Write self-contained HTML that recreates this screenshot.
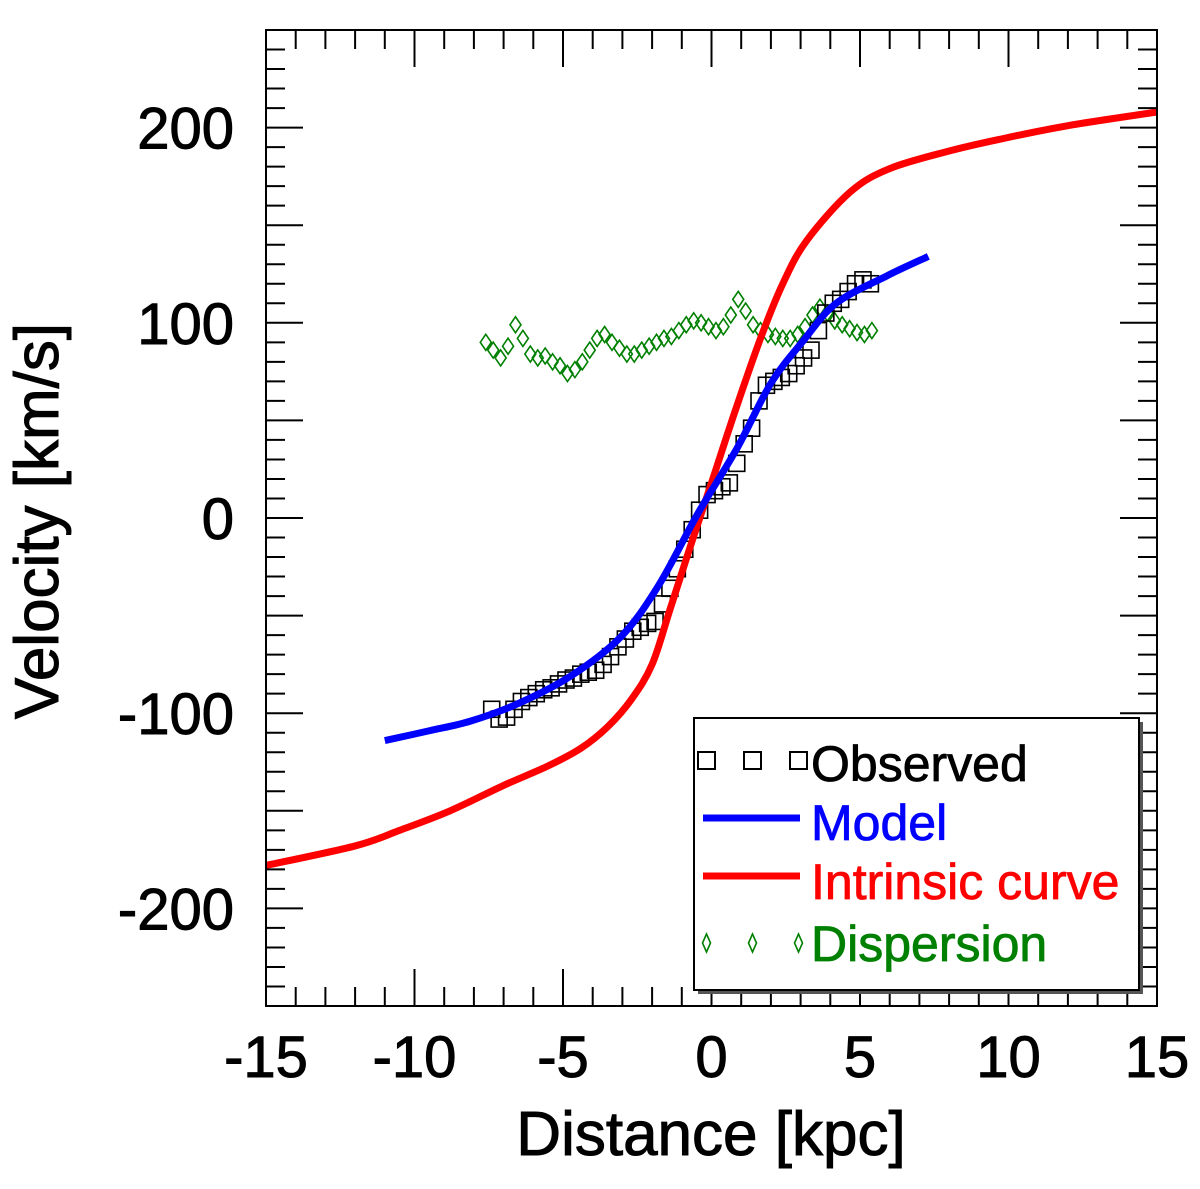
<!DOCTYPE html>
<html><head><meta charset="utf-8"><style>
body{margin:0;background:#fff}
svg text{font-family:"Liberation Sans",sans-serif}
</style></head><body>
<svg id="chart" width="1200" height="1184" viewBox="0 0 1200 1184" xmlns="http://www.w3.org/2000/svg">
<rect width="1200" height="1184" fill="#fff"/>
<g id="marks"></g>
<g id="axes"></g>
</svg>
<script>
const xTicks=[-15,-10,-5,0,5,10,15];
const yTicks=[-200,-100,0,100,200];
const intrX=[-15,-12,-10.5,-8.8,-7,-5.5,-4.4,-3.5,-2.7,-2,-1.4,-0.7,0,0.8,1.65,2.4,3.2,4.67,6,8,9.7,12,15];
const intrY=[-178,-168,-160,-150,-137,-127,-118,-107,-93,-75,-47,-14,18,55,92,120,142,167,179,188,194,201,208];
const modelX=[-11,-9.5,-8.1,-6.5,-4.74,-3.06,-1.8,-0.47,0.87,2,3.1,4.2,5.9,7.3];
const modelY=[-114,-109,-104,-95,-81,-61,-35,2,36,69,91,110,124,134];
const obsX=[-7.4,-7.15,-6.9,-6.65,-6.4,-6.15,-5.9,-5.65,-5.4,-5.15,-4.9,-4.65,-4.4,-4.15,-3.9,-3.65,-3.4,-3.15,-2.9,-2.65,-2.4,-2.15,-1.9,-1.65,-1.4,-1.15,-0.9,-0.65,-0.4,-0.15,0.1,0.35,0.6,0.85,1.1,1.35,1.6,1.85,2.1,2.35,2.6,2.85,3.1,3.35,3.6,3.85,4.1,4.35,4.6,4.85,5.1,5.35];
const obsY=[-98,-103,-102,-98,-94,-92,-90,-88,-87,-85,-83,-82,-80,-79,-78,-75,-71,-66,-62,-58,-56,-54,-53,-44,-36,-26,-16,-6,4,12,14,16,18,28,38,46,60,68,70,72,74,78,82,86,96,105,110,112,116,120,122,120];
const dispX=[-7.6,-7.35,-7.1,-6.85,-6.6,-6.35,-6.1,-5.85,-5.6,-5.35,-5.1,-4.85,-4.6,-4.35,-4.1,-3.85,-3.6,-3.35,-3.1,-2.85,-2.6,-2.35,-2.1,-1.85,-1.6,-1.35,-1.1,-0.85,-0.6,-0.35,-0.1,0.15,0.4,0.65,0.9,1.15,1.4,1.65,1.9,2.15,2.4,2.65,2.9,3.15,3.4,3.65,3.9,4.15,4.4,4.65,4.9,5.15,5.4];
const dispY=[90,86,82,88,99,92,84,82,83,80,78,74,76,80,86,92,94,90,87,84,84,86,88,90,92,93,96,99,101,100,98,96,98,104,112,106,99,96,94,93,92,92,94,98,104,108,105,101,99,97,95,94,96];

const L=266,R=1157,T=30,B=1006;
const X=v=>L+(v+15)/30*(R-L);
const Y=v=>B-(v+250)/500*(B-T);
const NS='http://www.w3.org/2000/svg';
const marks=document.getElementById('marks'),axes=document.getElementById('axes');
function mk(tag,attrs,parent){const e=document.createElementNS(NS,tag);for(const k in attrs)e.setAttribute(k,attrs[k]);parent.appendChild(e);return e;}

dispX.forEach((x,i)=>{const cx=X(x),cy=Y(dispY[i]);
 const d=mk('path',{d:`M${cx} ${cy-8}L${cx+5.5} ${cy}L${cx} ${cy+8}L${cx-5.5} ${cy}Z`,fill:'none',stroke:'#008000','stroke-width':1.6},marks);
 
 
});
obsX.forEach((x,i)=>{const cx=X(x),cy=Y(obsY[i]);
 const s=mk('rect',{x:cx-8,y:cy-8,width:16,height:16,fill:'none',stroke:'#000','stroke-width':1.6},marks);
 
 
});
function smooth(xs,ys){
 const p=xs.map((x,i)=>[X(x),Y(ys[i])]);
 let d=`M${p[0][0]} ${p[0][1]}`;
 for(let i=0;i<p.length-1;i++){
  const p0=p[Math.max(0,i-1)],p1=p[i],p2=p[i+1],p3=p[Math.min(p.length-1,i+2)];
  const c1=[p1[0]+(p2[0]-p0[0])/6,p1[1]+(p2[1]-p0[1])/6];
  const c2=[p2[0]-(p3[0]-p1[0])/6,p2[1]-(p3[1]-p1[1])/6];
  d+=`C${c1[0]} ${c1[1]} ${c2[0]} ${c2[1]} ${p2[0]} ${p2[1]}`;
 }
 return d;
}
function line(xs,ys,color,name){
 const p=mk('path',{d:smooth(xs,ys),fill:'none',stroke:color,'stroke-width':7,'stroke-linejoin':'round'},marks);
 
 
}
line(intrX,intrY,'#ff0000','intrinsic-curve-line');
line(modelX,modelY,'#0000ff','model-line');

const fr=mk('rect',{x:L,y:T,width:R-L,height:B-T,fill:'none',stroke:'#000','stroke-width':2},axes);


for(let v=-15;v<=15;v++){const maj=v%5===0,len=maj?37:19,x=X(v);
 const t1=mk('line',{x1:x,y1:B,x2:x,y2:B-len,stroke:'#000','stroke-width':2},axes);
 
 
 const t2=mk('line',{x1:x,y1:T,x2:x,y2:T+len,stroke:'#000','stroke-width':2},axes);
 
 
}
for(let v=-250;v<=250;v+=10){const maj=v%50===0,len=maj?37:19,y=Y(v);
 const t1=mk('line',{x1:L,y1:y,x2:L+len,y2:y,stroke:'#000','stroke-width':2},axes);
 
 
 const t2=mk('line',{x1:R,y1:y,x2:R-len,y2:y,stroke:'#000','stroke-width':2},axes);
 
 
}
xTicks.forEach(v=>{const t=mk('text',{x:X(v),y:1077,'font-size':58,'text-anchor':'middle',stroke:'#000','stroke-width':1},axes);t.textContent=String(v);
 
 
});
yTicks.forEach(v=>{const t=mk('text',{x:234,y:Y(v)+21,'font-size':58,'text-anchor':'end',stroke:'#000','stroke-width':1},axes);t.textContent=String(v);
 
 
});
const xt=mk('text',{x:711,y:1155,'font-size':62,'text-anchor':'middle',stroke:'#000','stroke-width':1},axes);xt.textContent='Distance [kpc]';


const yt=mk('text',{x:0,y:0,'font-size':62,'text-anchor':'middle',stroke:'#000','stroke-width':1,transform:'translate(58,521) rotate(-90)'},axes);yt.textContent='Velocity [km/s]';



const lg=mk('g',{},axes);


mk('rect',{x:698,y:722,width:445,height:272,fill:'#555'},lg);
mk('rect',{x:694,y:718,width:445,height:272,fill:'#fff',stroke:'#000','stroke-width':2},lg);
[698,744,790].forEach(x=>{mk('rect',{x:x,y:752,width:17,height:17,fill:'none',stroke:'#000','stroke-width':2},lg);
 mk('path',{d:`M${x+8.5} 934L${x+12.5} 943L${x+8.5} 952L${x+4.5} 943Z`,fill:'none',stroke:'#008000','stroke-width':1.6},lg);});
mk('line',{x1:703,y1:818,x2:800,y2:818,stroke:'#0000ff','stroke-width':7},lg);
mk('line',{x1:703,y1:876,x2:800,y2:876,stroke:'#ff0000','stroke-width':7},lg);
[['Observed','#000',781,'legend-observed'],['Model','#0000ff',840,'legend-model'],['Intrinsic curve','#ff0000',899,'legend-intrinsic'],['Dispersion','#008000',961,'legend-dispersion']].forEach(([s,c,y,n])=>{
 const t=mk('text',{x:811,y:y,'font-size':50,fill:c,stroke:c,'stroke-width':0.8},lg);t.textContent=s;
 
 
});
</script>
</body></html>
